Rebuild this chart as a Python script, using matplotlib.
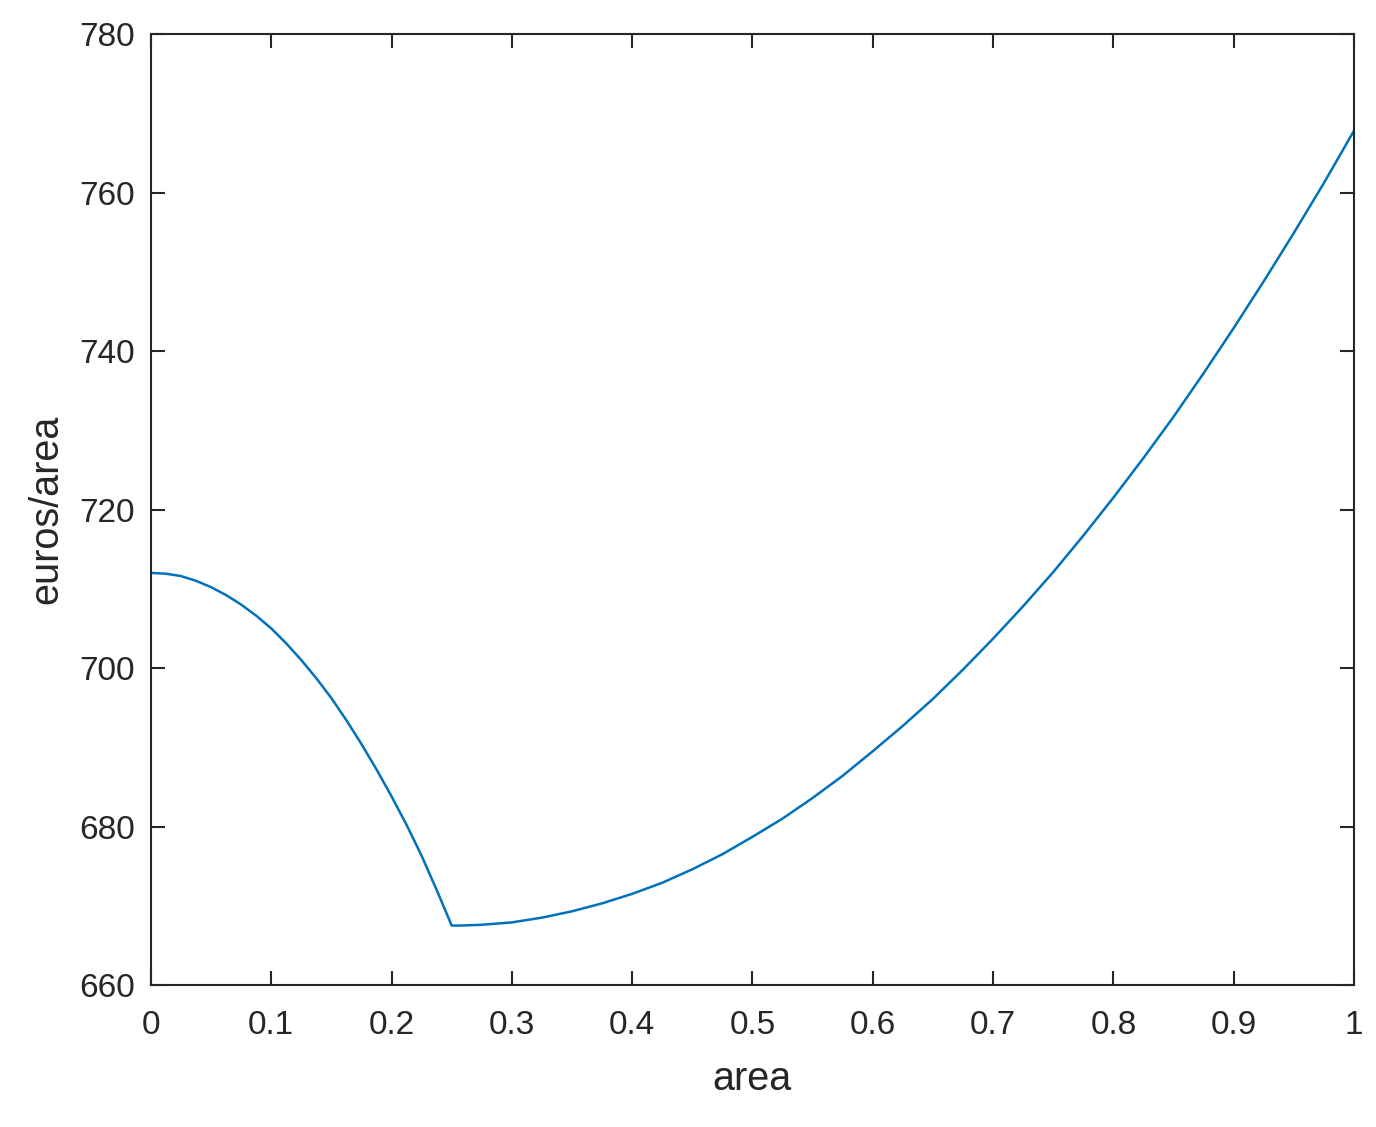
import matplotlib
matplotlib.use("Agg")
import matplotlib.pyplot as plt

# Left branch (area 0 .. 0.25)
area_left = [0.0, 0.0125, 0.025, 0.0375, 0.05, 0.0625, 0.075, 0.0875, 0.1, 0.1125,
             0.125, 0.1375, 0.15, 0.1625, 0.175, 0.1875, 0.2, 0.2125, 0.225, 0.2375, 0.25]
cost_left = [712.0, 711.9, 711.6, 711.0, 710.2, 709.2, 708.0, 706.6, 705.0, 703.1,
             701.0, 698.7, 696.2, 693.4, 690.4, 687.2, 683.8, 680.2, 676.3, 672.0, 667.5]

# Right branch (area 0.25 .. 1.0)
area_right = [0.25, 0.257, 0.275, 0.30, 0.325, 0.35, 0.375, 0.40, 0.425, 0.45, 0.475,
              0.50, 0.525, 0.55, 0.575, 0.60, 0.625, 0.65, 0.675, 0.70, 0.725,
              0.75, 0.775, 0.80, 0.825, 0.85, 0.875, 0.90, 0.925, 0.95, 0.975, 1.00]
cost_right = [667.5, 667.5, 667.6, 667.9, 668.5, 669.3, 670.3, 671.5, 672.9, 674.6, 676.5,
              678.7, 681.0, 683.6, 686.4, 689.5, 692.7, 696.1, 699.8, 703.7, 707.8,
              712.1, 716.7, 721.5, 726.5, 731.7, 737.2, 742.9, 748.8, 754.9, 761.2, 767.8]

x_ticks = [0, 0.1, 0.2, 0.3, 0.4, 0.5, 0.6, 0.7, 0.8, 0.9, 1]
x_tick_labels = ["0", "0.1", "0.2", "0.3", "0.4", "0.5", "0.6", "0.7", "0.8", "0.9", "1"]
y_ticks = [660, 680, 700, 720, 740, 760, 780]

plt.rcParams['font.family'] = ['Liberation Sans', 'DejaVu Sans']

fig = plt.figure(figsize=(13.76, 11.27), dpi=100)
ax = fig.add_axes([0.1097, 0.126, 0.8743, 0.8438])

area = area_left + area_right[1:]
cost = cost_left + cost_right[1:]
ax.plot(area, cost, color="#0072BD", lw=1.8, solid_joinstyle="round")

ax.set_xlim(0, 1)
ax.set_ylim(660, 780)
ax.set_xticks(x_ticks)
ax.set_xticklabels(x_tick_labels)
ax.set_yticks(y_ticks)

textc = "#262626"
for s in ax.spines.values():
    s.set_color(textc)
    s.set_linewidth(1.5)
ax.tick_params(direction="in", length=10, width=1.5, color=textc,
               top=True, right=True, labelsize=24, labelcolor=textc)
ax.tick_params(axis="x", pad=18)
ax.tick_params(axis="y", pad=11.5)
ax.set_xlabel("area", fontsize=28.5, color=textc, labelpad=14)
ax.set_ylabel("euros/area", fontsize=28.5, color=textc, labelpad=10)

fig.savefig("out.png", dpi=100, facecolor="white")
